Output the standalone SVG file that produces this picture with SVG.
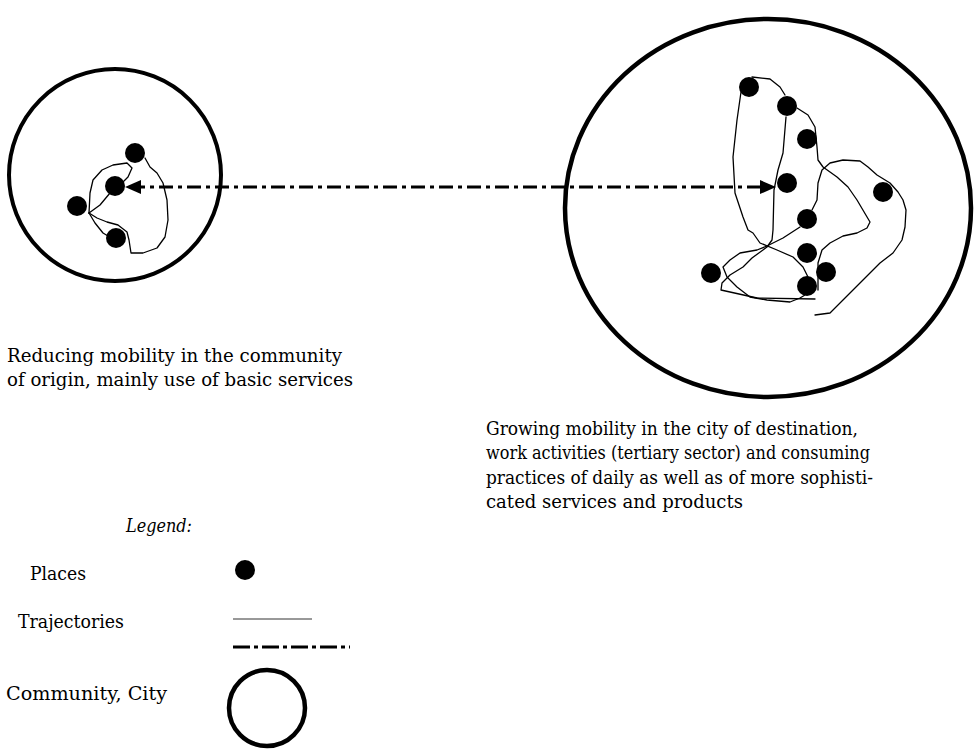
<svg xmlns="http://www.w3.org/2000/svg" width="978" height="749" viewBox="0 0 978 749">
<defs>
<style>
.t{font-family:"DejaVu Serif","Liberation Serif",serif;font-size:18.5px;fill:#000}
.ring{fill:none;stroke:#000}
.place{fill:#000}
.traj{fill:none;stroke:#000;stroke-width:1.3;stroke-linejoin:round;stroke-linecap:round}
.move{fill:none;stroke:#000;stroke-width:3;stroke-dasharray:14 5 4 5}
</style>
</defs>
<rect width="978" height="749" fill="#fff"/>

<g id="community">
<circle class="ring" cx="115" cy="175" r="106" stroke-width="4"/>
<g class="traj">
<path d="M145,158 L150,167 L157,173 L163,183 L167,200 L168,220 L165,237 L157,248 L143,253 L131,253 L129,240 L127,232 L118,225 L107,222 L97,218 L89,213"/>
<path d="M89,213 L90,193 L93,180 L102,170 L113,165 L127,163 L132,168 L128,177 L122,183"/>
<path d="M89,213 L100,205 L110,193"/>
<path d="M89,213 L95,223 L103,233 L108,236"/>
</g>
<circle class="place" cx="135" cy="153" r="10"/>
<circle class="place" cx="115" cy="186" r="10"/>
<circle class="place" cx="77" cy="206" r="10"/>
<circle class="place" cx="116" cy="238" r="10"/>
</g>

<g id="city">
<ellipse class="ring" cx="768" cy="208" rx="203" ry="189" stroke-width="4.5"/>
<g class="traj">
<path d="M752,77 L770,79 L780,87 L785,95"/>
<path d="M797,108 L808,115 L815,127 L817,147 L818,160 L823,167 L837,177 L848,187 L857,200 L870,222 L867,228 L857,233 L843,236 L830,243 L822,250 L818,263 L818,290"/>
<path d="M741,92 L737,120 L733,157 L735,193 L743,217 L748,230 L753,233 L760,243 L777,250 L793,257 L803,267 L808,277"/>
<path d="M786,117 L783,153 L778,170 L774,190 L773,230 L772,240 L767,247 L752,258 L743,267 L730,275 L722,283 L721,290 L757,298 L815,299"/>
<path d="M812,210 L817,200 L818,183 L822,170 L830,163 L843,160 L860,161 L868,167 L877,175 L890,183 L898,192 L903,200 L906,210 L905,227 L902,240 L893,253 L880,263 L863,280 L843,300 L830,313 L815,315"/>
<path d="M800,227 L783,238 L767,246 L757,250 L740,253 L730,260 L723,267 L727,277 L737,287 L750,297 L767,300 L790,302 L800,298 L805,295"/>
</g>
<circle class="place" cx="749" cy="87" r="10"/>
<circle class="place" cx="787" cy="106" r="10"/>
<circle class="place" cx="807" cy="139" r="10"/>
<circle class="place" cx="787" cy="183" r="10"/>
<circle class="place" cx="883" cy="192" r="10"/>
<circle class="place" cx="807" cy="219" r="10"/>
<circle class="place" cx="807" cy="253" r="10"/>
<circle class="place" cx="826" cy="272" r="10"/>
<circle class="place" cx="711" cy="273" r="10"/>
<circle class="place" cx="807" cy="286" r="10"/>
</g>

<g id="connectors">
<path class="move" d="M761,187 L140,187"/>
<path d="M125,187 L141,180 L141,194 Z" fill="#000"/>
<path d="M776,187 L760,180 L760,194 Z" fill="#000"/>
</g>

<g id="captions">
<text class="t" x="7" y="362" textLength="335" lengthAdjust="spacingAndGlyphs">Reducing mobility in the community</text>
<text class="t" x="7" y="386" textLength="346" lengthAdjust="spacingAndGlyphs">of origin, mainly use of basic services</text>
<text class="t" x="486" y="435" textLength="372" lengthAdjust="spacingAndGlyphs">Growing mobility in the city of destination,</text>
<text class="t" x="486" y="459" textLength="384" lengthAdjust="spacingAndGlyphs">work activities (tertiary sector) and consuming</text>
<text class="t" x="486" y="484" textLength="387" lengthAdjust="spacingAndGlyphs">practices of daily as well as of more sophisti-</text>
<text class="t" x="486" y="508" textLength="257" lengthAdjust="spacingAndGlyphs">cated services and products</text>
</g>

<g id="legend">
<text class="t" x="126" y="532" font-style="italic" textLength="66" lengthAdjust="spacingAndGlyphs">Legend:</text>
<text class="t" x="30" y="580" textLength="56" lengthAdjust="spacingAndGlyphs">Places</text>
<circle class="place" cx="245" cy="570" r="10"/>
<text class="t" x="18" y="628" textLength="106" lengthAdjust="spacingAndGlyphs">Trajectories</text>
<line x1="233" y1="619" x2="312" y2="619" stroke="#333" stroke-width="1"/>
<line x1="233" y1="647" x2="350" y2="647" stroke="#000" stroke-width="3" stroke-dasharray="17 4 4 4"/>
<text class="t" x="6" y="700" textLength="161" lengthAdjust="spacingAndGlyphs">Community, City</text>
<circle class="ring" cx="267" cy="708" r="38" stroke-width="4.5"/>
</g>
</svg>
